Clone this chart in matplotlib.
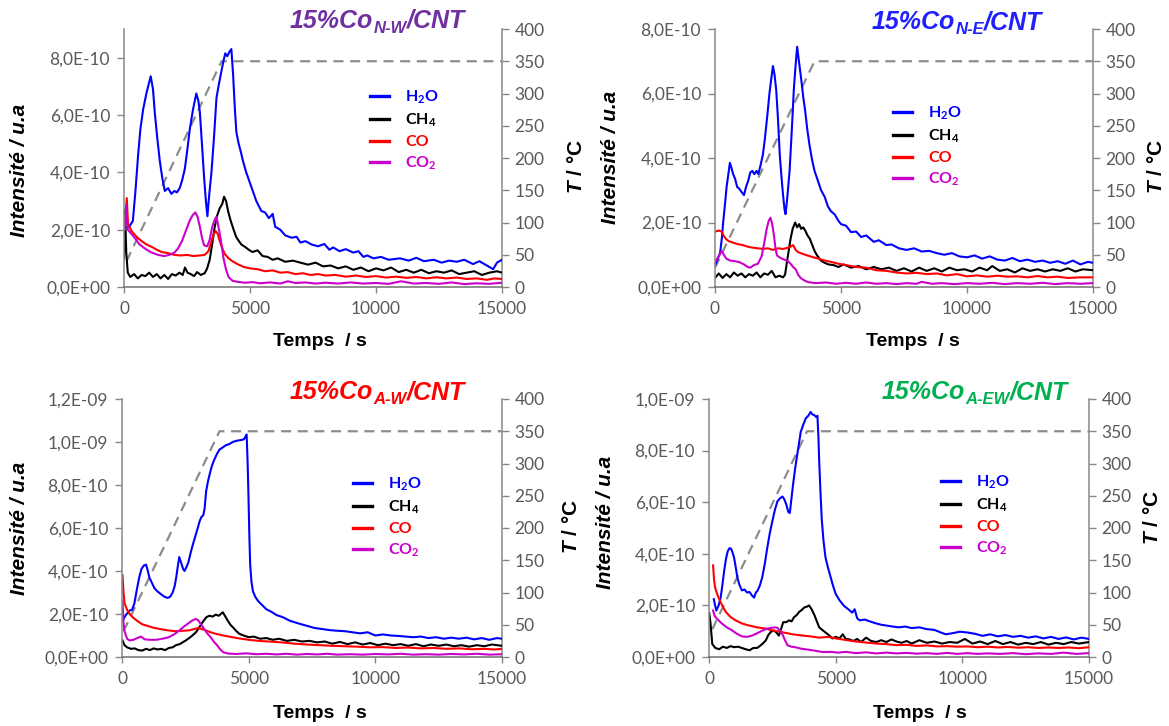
import matplotlib
matplotlib.use('Agg')
import matplotlib.pyplot as plt

plt.rcParams['font.family'] = ['Lato', 'DejaVu Sans']
plt.rcParams['mathtext.fontset'] = 'custom'
plt.rcParams['mathtext.rm'] = 'Lato:bold'
plt.rcParams['mathtext.it'] = 'Liberation Sans:italic:bold'
plt.rcParams['mathtext.bf'] = 'Liberation Sans:bold'
plt.rcParams['mathtext.default'] = 'rm'

# ---- data, intensities in units of 1e-10 ----
# panel 1 : 15%Co N-W /CNT
nw_h2o = [(30, 2.05), (200, 2.1), (350, 2.3), (450, 3.3), (560, 4.6), (650, 5.5), (760, 6.2), (900, 6.8),
          (1060, 7.35), (1150, 6.9), (1220, 6.1), (1320, 5.2), (1420, 4.4), (1520, 3.8), (1620, 3.35),
          (1750, 3.45), (1880, 3.25), (2000, 3.35), (2100, 3.3), (2210, 3.45), (2300, 3.7), (2410, 4.1),
          (2500, 4.7), (2610, 5.5), (2740, 6.2), (2870, 6.75), (2950, 6.5), (3010, 6.1), (3100, 4.9),
          (3180, 3.8), (3250, 3.0), (3310, 2.47), (3380, 3.2), (3470, 4.0), (3570, 5.2), (3670, 6.6),
          (3770, 7.1), (3860, 7.5), (3950, 7.9), (4020, 8.15), (4100, 8.05), (4180, 8.2), (4260, 8.3),
          (4330, 7.4), (4400, 6.2), (4460, 5.4), (4550, 5.0), (4640, 4.7), (4720, 4.4), (4850, 4.0),
          (5050, 3.5), (5250, 3.0), (5450, 2.65), (5600, 2.6), (5750, 2.4), (5900, 2.55), (6000, 2.1),
          (6200, 2.0), (6400, 1.8), (6650, 1.72), (6850, 1.75), (7000, 1.55), (7200, 1.6), (7450, 1.48),
          (7700, 1.42), (7950, 1.5), (8150, 1.3), (8300, 1.38), (8550, 1.25), (8800, 1.32), (9100, 1.2),
          (9300, 1.25), (9500, 1.05), (9650, 1.1), (9900, 1.0), (10200, 1.05), (10500, 0.95), (10950, 1.0),
          (11300, 0.92), (11600, 1.02), (11900, 0.9), (12300, 0.95), (12600, 0.85), (12900, 0.92),
          (13200, 0.88), (13500, 0.95), (13850, 0.8), (14100, 0.9), (14400, 0.75), (14650, 0.62),
          (14800, 0.85), (15000, 0.95)]
nw_ch4 = [(0, 1.0), (40, 2.7), (90, 1.2), (150, 0.5), (250, 0.35), (400, 0.45), (550, 0.3), (700, 0.42),
          (850, 0.38), (1000, 0.5), (1150, 0.35), (1300, 0.45), (1450, 0.3), (1600, 0.42), (1750, 0.28),
          (1900, 0.45), (2050, 0.4), (2200, 0.5), (2330, 0.42), (2420, 0.68), (2520, 0.5), (2650, 0.45),
          (2780, 0.38), (2900, 0.52), (3050, 0.42), (3200, 0.48), (3300, 0.65), (3400, 0.95), (3500, 1.5),
          (3600, 2.1), (3700, 2.5), (3800, 2.75), (3900, 2.9), (3970, 3.15), (4050, 3.0), (4130, 2.65),
          (4220, 2.35), (4330, 2.05), (4450, 1.75), (4560, 1.6), (4660, 1.48), (4800, 1.4), (4950, 1.3),
          (5100, 1.22), (5300, 1.28), (5500, 1.08), (5700, 1.05), (5900, 0.95), (6100, 1.0), (6400, 0.88),
          (6700, 0.92), (7000, 0.85), (7300, 0.78), (7600, 0.85), (7900, 0.72), (8200, 0.75), (8500, 0.65),
          (8800, 0.72), (9100, 0.6), (9400, 0.68), (9700, 0.55), (10000, 0.65), (10300, 0.58), (10600, 0.68),
          (10900, 0.52), (11200, 0.6), (11500, 0.5), (11800, 0.6), (12100, 0.48), (12400, 0.55), (12700, 0.5),
          (13000, 0.58), (13300, 0.45), (13600, 0.5), (13900, 0.55), (14200, 0.42), (14500, 0.5),
          (14800, 0.55), (15000, 0.5)]
nw_co = [(60, 2.3), (110, 3.1), (160, 2.2), (300, 1.95), (500, 1.75), (700, 1.6), (900, 1.48), (1100, 1.4),
         (1300, 1.3), (1500, 1.22), (1750, 1.18), (2000, 1.12), (2250, 1.1), (2500, 1.12), (2750, 1.08),
         (3000, 1.1), (3200, 1.12), (3350, 1.25), (3470, 1.6), (3560, 1.85), (3640, 1.95), (3720, 1.85),
         (3800, 1.6), (3900, 1.35), (4000, 1.15), (4150, 1.0), (4300, 0.9), (4500, 0.8), (4750, 0.7),
         (5000, 0.65), (5300, 0.62), (5600, 0.55), (5900, 0.58), (6200, 0.5), (6500, 0.52), (6800, 0.45),
         (7100, 0.48), (7400, 0.42), (7700, 0.45), (8000, 0.4), (8400, 0.42), (8800, 0.36), (9200, 0.4),
         (9600, 0.35), (10000, 0.38), (10400, 0.33), (10800, 0.36), (11200, 0.32), (11600, 0.35),
         (12000, 0.3), (12400, 0.34), (12800, 0.3), (13200, 0.33), (13600, 0.28), (14000, 0.3),
         (14400, 0.25), (14700, 0.3), (15000, 0.28)]
nw_co2 = [(30, 2.0), (90, 2.85), (150, 2.0), (250, 1.9), (420, 1.72), (600, 1.5), (820, 1.35), (1050, 1.22),
          (1350, 1.12), (1600, 1.08), (1800, 1.12), (2000, 1.2), (2150, 1.35), (2300, 1.6), (2450, 1.95),
          (2600, 2.3), (2720, 2.5), (2830, 2.6), (2920, 2.45), (3010, 2.1), (3100, 1.7), (3180, 1.45),
          (3300, 1.42), (3400, 1.65), (3500, 2.1), (3600, 2.35), (3670, 2.45), (3750, 2.1), (3850, 1.6),
          (3950, 1.0), (4050, 0.6), (4150, 0.35), (4300, 0.22), (4500, 0.18), (4800, 0.15), (5100, 0.17),
          (5400, 0.13), (5800, 0.16), (6200, 0.12), (6500, 0.2), (6800, 0.14), (7200, 0.16), (7600, 0.12),
          (8000, 0.15), (8500, 0.12), (9000, 0.16), (9500, 0.12), (10000, 0.14), (10500, 0.11),
          (11000, 0.2), (11500, 0.12), (12000, 0.14), (12500, 0.11), (13000, 0.16), (13500, 0.1),
          (14000, 0.13), (14500, 0.11), (15000, 0.15)]
nw_temp = [(100, 40), (3870, 350), (15000, 350)]

# panel 2 : 15%Co N-E /CNT
ne_h2o = [(20, 0.7), (120, 0.9), (200, 1.05), (270, 1.5), (330, 2.05), (400, 2.6), (460, 3.1), (530, 3.5),
          (590, 3.85), (650, 3.7), (720, 3.5), (800, 3.35), (880, 3.1), (960, 3.05), (1050, 2.95),
          (1150, 2.85), (1230, 3.1), (1320, 3.3), (1400, 3.55), (1480, 3.6), (1560, 3.5), (1650, 3.6),
          (1720, 3.5), (1800, 3.75), (1900, 4.1), (1980, 4.6), (2080, 5.35), (2160, 6.0), (2240, 6.5),
          (2300, 6.85), (2360, 6.6), (2430, 6.1), (2500, 5.2), (2570, 4.1), (2640, 3.4), (2700, 2.85),
          (2760, 2.4), (2800, 2.26), (2860, 2.7), (2960, 3.6), (3050, 4.9), (3130, 6.15), (3200, 6.9),
          (3260, 7.45), (3330, 7.0), (3420, 6.45), (3500, 5.9), (3580, 5.45), (3660, 4.9), (3750, 4.4),
          (3850, 3.95), (3950, 3.6), (4080, 3.3), (4210, 3.0), (4350, 2.8), (4480, 2.5), (4600, 2.35),
          (4750, 2.25), (4900, 2.05), (5000, 1.95), (5200, 1.9), (5400, 1.7), (5600, 1.72), (5800, 1.55),
          (6000, 1.6), (6300, 1.4), (6500, 1.45), (6800, 1.3), (7000, 1.32), (7300, 1.2), (7600, 1.15),
          (7900, 1.2), (8200, 1.1), (8500, 1.12), (8800, 1.05), (9100, 1.0), (9400, 1.05), (9700, 0.95),
          (10000, 0.92), (10300, 0.98), (10600, 0.88), (10900, 0.95), (11200, 0.85), (11500, 0.82),
          (11800, 0.9), (12100, 0.8), (12400, 0.85), (12700, 0.78), (13000, 0.82), (13300, 0.75),
          (13600, 0.8), (13900, 0.72), (14200, 0.82), (14500, 0.7), (14800, 0.78), (15000, 0.75)]
ne_ch4 = [(20, 0.3), (150, 0.42), (300, 0.28), (450, 0.4), (600, 0.3), (750, 0.45), (900, 0.35), (1050, 0.42),
          (1200, 0.3), (1350, 0.4), (1500, 0.35), (1650, 0.45), (1800, 0.3), (1950, 0.42), (2100, 0.38),
          (2250, 0.5), (2400, 0.3), (2550, 0.35), (2700, 0.3), (2780, 0.38), (2850, 0.75), (2920, 1.1),
          (3000, 1.5), (3080, 1.8), (3180, 2.0), (3260, 1.85), (3340, 1.95), (3420, 1.8), (3500, 1.85),
          (3580, 1.75), (3670, 1.6), (3760, 1.5), (3860, 1.3), (3950, 1.12), (4050, 0.98), (4200, 0.82),
          (4350, 0.75), (4500, 0.7), (4700, 0.68), (4900, 0.62), (5100, 0.7), (5400, 0.6), (5700, 0.65),
          (6000, 0.55), (6300, 0.62), (6600, 0.55), (6900, 0.6), (7200, 0.5), (7500, 0.58), (7800, 0.48),
          (8100, 0.6), (8400, 0.5), (8700, 0.58), (9000, 0.48), (9300, 0.6), (9600, 0.52), (9900, 0.55),
          (10200, 0.48), (10500, 0.6), (10800, 0.52), (11000, 0.65), (11300, 0.5), (11600, 0.55),
          (11900, 0.45), (12200, 0.58), (12500, 0.5), (12800, 0.55), (13100, 0.48), (13400, 0.55),
          (13700, 0.5), (14000, 0.58), (14300, 0.48), (14600, 0.55), (15000, 0.52)]
ne_co = [(20, 1.72), (150, 1.75), (260, 1.72), (350, 1.58), (450, 1.48), (550, 1.42), (700, 1.38), (900, 1.33),
         (1100, 1.3), (1300, 1.25), (1500, 1.22), (1700, 1.2), (1900, 1.18), (2100, 1.2), (2300, 1.15),
         (2500, 1.2), (2700, 1.18), (2900, 1.22), (3000, 1.25), (3100, 1.3), (3200, 1.15), (3300, 1.08),
         (3500, 1.02), (3700, 0.97), (3900, 0.92), (4100, 0.88), (4350, 0.82), (4600, 0.78), (4900, 0.72),
         (5200, 0.68), (5600, 0.62), (6000, 0.6), (6400, 0.52), (6800, 0.5), (7200, 0.45), (7600, 0.42),
         (8000, 0.44), (8400, 0.4), (8800, 0.42), (9200, 0.36), (9600, 0.4), (10000, 0.33), (10400, 0.36),
         (10800, 0.32), (11200, 0.35), (11600, 0.32), (12000, 0.33), (12400, 0.3), (12800, 0.34),
         (13200, 0.3), (13600, 0.32), (14000, 0.28), (14500, 0.3), (15000, 0.3)]
ne_co2 = [(20, 0.8), (150, 0.95), (260, 1.12), (350, 1.0), (450, 0.88), (600, 0.82), (800, 0.8), (1000, 0.76),
          (1150, 0.7), (1300, 0.62), (1400, 0.6), (1550, 0.68), (1700, 0.72), (1850, 0.95), (1950, 1.35),
          (2050, 1.8), (2130, 2.05), (2200, 2.15), (2270, 1.95), (2340, 1.6), (2400, 1.2), (2460, 0.98),
          (2600, 0.9), (2750, 0.85), (2900, 0.8), (3000, 0.72), (3100, 0.62), (3200, 0.55), (3300, 0.38),
          (3400, 0.28), (3550, 0.2), (3700, 0.15), (4000, 0.12), (4400, 0.14), (4800, 0.1), (5200, 0.13),
          (5600, 0.1), (6000, 0.14), (6400, 0.1), (6800, 0.12), (7200, 0.09), (7600, 0.12), (8000, 0.1),
          (8200, 0.16), (8600, 0.1), (9000, 0.12), (9500, 0.09), (10000, 0.12), (10500, 0.1), (11000, 0.13),
          (11500, 0.09), (12000, 0.12), (12500, 0.1), (13000, 0.13), (13500, 0.09), (14000, 0.12),
          (14500, 0.1), (15000, 0.12)]
ne_temp = [(0, 30), (3950, 350), (15000, 350)]

# panel 3 : 15%Co A-W /CNT
aw_h2o = [(30, 1.7), (150, 1.95), (290, 2.15), (400, 2.2), (490, 2.5), (580, 3.1), (680, 3.7), (770, 4.1),
          (860, 4.25), (950, 4.3), (1020, 4.0), (1080, 3.7), (1180, 3.45), (1280, 3.2), (1400, 3.05),
          (1540, 2.92), (1680, 2.8), (1800, 2.75), (1900, 2.8), (2000, 3.0), (2080, 3.3), (2140, 3.7),
          (2200, 4.2), (2260, 4.65), (2330, 4.4), (2410, 4.1), (2470, 4.0), (2550, 4.2), (2620, 4.4),
          (2700, 4.8), (2790, 5.2), (2890, 5.6), (2990, 6.0), (3060, 6.3), (3130, 6.5), (3210, 6.6),
          (3260, 6.9), (3320, 7.7), (3390, 8.15), (3450, 8.45), (3550, 8.9), (3650, 9.2), (3750, 9.45),
          (3850, 9.65), (3980, 9.75), (4100, 9.85), (4230, 9.9), (4370, 10.0), (4500, 10.05), (4630, 10.08),
          (4750, 10.1), (4830, 10.15), (4920, 10.35), (4960, 9.0), (4990, 7.6), (5030, 5.5), (5060, 4.3),
          (5110, 3.5), (5170, 3.05), (5260, 2.8), (5360, 2.62), (5500, 2.45), (5700, 2.22), (5900, 2.1),
          (6100, 1.95), (6350, 1.85), (6600, 1.7), (6800, 1.62), (7000, 1.55), (7300, 1.45), (7600, 1.35),
          (7900, 1.3), (8200, 1.25), (8500, 1.22), (8800, 1.2), (9100, 1.15), (9400, 1.1), (9700, 1.15),
          (10000, 1.0), (10300, 1.05), (10600, 1.0), (10900, 0.98), (11200, 0.95), (11500, 0.92),
          (11800, 0.95), (12100, 0.88), (12400, 0.92), (12700, 0.85), (13000, 0.9), (13300, 0.85),
          (13600, 0.9), (13900, 0.82), (14200, 0.88), (14500, 0.8), (14800, 0.88), (15000, 0.85)]
aw_ch4 = [(20, 0.77), (100, 0.55), (200, 0.45), (350, 0.38), (500, 0.4), (650, 0.32), (800, 0.3), (950, 0.38),
          (1100, 0.32), (1250, 0.4), (1400, 0.35), (1550, 0.38), (1700, 0.32), (1850, 0.42), (2000, 0.45),
          (2130, 0.55), (2280, 0.6), (2420, 0.7), (2530, 0.78), (2650, 0.88), (2780, 1.0), (2920, 1.15),
          (3050, 1.38), (3200, 1.65), (3330, 1.85), (3450, 1.92), (3580, 1.88), (3700, 1.97), (3820, 1.92),
          (3900, 2.0), (3980, 2.08), (4080, 1.88), (4180, 1.68), (4280, 1.5), (4380, 1.38), (4500, 1.22),
          (4630, 1.08), (4800, 1.0), (5000, 0.92), (5200, 0.95), (5450, 0.85), (5700, 0.88), (5950, 0.8),
          (6200, 0.85), (6500, 0.75), (6800, 0.8), (7100, 0.72), (7400, 0.75), (7700, 0.68), (8000, 0.72),
          (8300, 0.62), (8600, 0.7), (8900, 0.6), (9200, 0.68), (9500, 0.58), (9800, 0.65), (10100, 0.55),
          (10400, 0.62), (10700, 0.55), (11000, 0.6), (11300, 0.52), (11600, 0.6), (11900, 0.5),
          (12200, 0.58), (12500, 0.52), (12800, 0.58), (13100, 0.5), (13400, 0.55), (13700, 0.48),
          (14000, 0.55), (14300, 0.5), (14600, 0.58), (15000, 0.52)]
aw_co = [(20, 3.8), (60, 3.0), (100, 2.5), (200, 2.2), (300, 2.0), (450, 1.82), (600, 1.68), (800, 1.52),
         (1000, 1.45), (1250, 1.36), (1500, 1.3), (1800, 1.24), (2100, 1.2), (2400, 1.22), (2650, 1.24),
         (2850, 1.3), (3000, 1.35), (3150, 1.3), (3300, 1.24), (3500, 1.15), (3700, 1.08), (4000, 1.0),
         (4350, 0.92), (4700, 0.85), (5000, 0.8), (5400, 0.75), (5800, 0.72), (6300, 0.68), (6800, 0.62),
         (7300, 0.58), (7800, 0.55), (8300, 0.52), (8800, 0.5), (9300, 0.48), (9800, 0.45), (10300, 0.46),
         (10800, 0.42), (11300, 0.44), (11800, 0.4), (12300, 0.42), (12800, 0.38), (13300, 0.4),
         (13800, 0.36), (14300, 0.38), (14700, 0.35), (15000, 0.38)]
aw_co2 = [(20, 2.6), (60, 1.6), (100, 1.2), (200, 0.85), (300, 0.77), (450, 0.8), (600, 0.88), (750, 0.95),
          (900, 0.82), (1100, 0.8), (1350, 0.8), (1600, 0.85), (1850, 0.92), (2050, 1.05), (2250, 1.22),
          (2450, 1.42), (2600, 1.55), (2750, 1.68), (2900, 1.77), (3000, 1.72), (3100, 1.55), (3220, 1.35),
          (3350, 1.12), (3500, 0.92), (3620, 0.72), (3750, 0.55), (3880, 0.35), (4000, 0.22), (4200, 0.16),
          (4500, 0.14), (4900, 0.17), (5300, 0.13), (5700, 0.15), (6100, 0.12), (6500, 0.15), (6900, 0.11),
          (7300, 0.14), (7700, 0.12), (8100, 0.15), (8500, 0.11), (9000, 0.13), (9500, 0.11), (10000, 0.14),
          (10500, 0.12), (11000, 0.15), (11500, 0.11), (12000, 0.13), (12500, 0.11), (13000, 0.14),
          (13500, 0.12), (14000, 0.15), (14500, 0.11), (15000, 0.13)]
aw_temp = [(60, 40), (3850, 350), (15000, 350)]

# panel 4 : 15%Co A-EW /CNT
aew_h2o = [(190, 2.24), (240, 2.0), (290, 1.8), (380, 2.0), (460, 2.3), (530, 2.8), (600, 3.35), (670, 3.8),
           (740, 4.1), (810, 4.22), (870, 4.2), (930, 4.05), (990, 3.85), (1060, 3.45), (1120, 3.08),
           (1200, 2.8), (1300, 2.58), (1400, 2.62), (1500, 2.5), (1600, 2.52), (1700, 2.38), (1780, 2.3),
           (1850, 2.5), (1910, 2.56), (2000, 2.75), (2100, 3.08), (2200, 3.6), (2300, 4.23), (2400, 4.8),
           (2500, 5.26), (2600, 5.7), (2700, 6.03), (2800, 6.15), (2900, 6.22), (2980, 6.1), (3060, 5.88),
           (3130, 5.62), (3190, 5.58), (3250, 6.1), (3320, 6.7), (3400, 7.3), (3460, 7.7), (3540, 8.2),
           (3620, 8.72), (3720, 9.0), (3820, 9.25), (3920, 9.35), (4010, 9.5), (4080, 9.4), (4150, 9.38),
           (4230, 9.3), (4280, 9.35), (4320, 8.5), (4350, 7.6), (4400, 6.4), (4450, 5.35), (4520, 4.5),
           (4600, 3.85), (4700, 3.45), (4800, 3.1), (4900, 2.75), (5000, 2.45), (5150, 2.2), (5330, 1.98),
           (5500, 1.85), (5650, 1.72), (5750, 1.85), (5850, 1.5), (5950, 1.42), (6150, 1.45), (6350, 1.38),
           (6600, 1.3), (6800, 1.25), (7000, 1.22), (7250, 1.18), (7500, 1.15), (7750, 1.18), (8000, 1.12),
           (8300, 1.15), (8600, 1.08), (8900, 1.05), (9150, 0.95), (9350, 0.88), (9600, 0.92), (9900, 0.98),
           (10200, 0.95), (10500, 0.9), (10800, 0.82), (11100, 0.88), (11400, 0.8), (11700, 0.85),
           (12000, 0.78), (12300, 0.82), (12600, 0.75), (12900, 0.8), (13200, 0.72), (13500, 0.78),
           (13800, 0.7), (14100, 0.76), (14400, 0.68), (14700, 0.75), (15000, 0.7)]
aew_ch4 = [(10, 1.7), (60, 1.3), (130, 0.5), (250, 0.35), (400, 0.3), (550, 0.4), (700, 0.35), (850, 0.42),
           (1000, 0.38), (1150, 0.4), (1300, 0.35), (1450, 0.3), (1600, 0.26), (1750, 0.35), (1900, 0.35),
           (2000, 0.42), (2120, 0.52), (2240, 0.64), (2340, 0.85), (2440, 0.97), (2560, 1.03), (2660, 0.95),
           (2760, 0.83), (2850, 1.1), (2930, 1.35), (3050, 1.35), (3160, 1.42), (3260, 1.38), (3360, 1.55),
           (3460, 1.62), (3560, 1.75), (3660, 1.82), (3760, 1.92), (3860, 1.95), (3950, 2.0), (4050, 1.85),
           (4150, 1.65), (4250, 1.4), (4350, 1.15), (4470, 1.05), (4600, 0.95), (4730, 0.85), (4870, 0.72),
           (5000, 0.78), (5150, 0.72), (5280, 0.88), (5400, 0.7), (5550, 0.68), (5700, 0.62), (5850, 0.7),
           (6000, 0.58), (6200, 0.75), (6400, 0.62), (6600, 0.58), (6800, 0.65), (7000, 0.58), (7200, 0.68),
           (7400, 0.6), (7600, 0.55), (7800, 0.62), (8000, 0.52), (8300, 0.65), (8600, 0.55), (8900, 0.6),
           (9200, 0.52), (9500, 0.58), (9800, 0.55), (10100, 0.7), (10400, 0.52), (10700, 0.6), (11000, 0.5),
           (11300, 0.62), (11600, 0.5), (11900, 0.58), (12200, 0.48), (12500, 0.55), (12800, 0.5),
           (13100, 0.58), (13400, 0.48), (13700, 0.55), (14000, 0.5), (14300, 0.58), (14600, 0.52),
           (15000, 0.58)]
aew_co = [(160, 3.55), (200, 3.0), (240, 2.7), (300, 2.5), (400, 2.25), (520, 2.0), (660, 1.75), (850, 1.55),
          (1050, 1.42), (1300, 1.3), (1580, 1.22), (1900, 1.15), (2240, 1.1), (2550, 1.02), (2900, 0.96),
          (3300, 0.88), (3700, 0.83), (4000, 0.8), (4350, 0.75), (4700, 0.78), (5000, 0.72), (5400, 0.66),
          (5800, 0.6), (6200, 0.56), (6600, 0.52), (7000, 0.5), (7400, 0.46), (7800, 0.47), (8200, 0.43),
          (8600, 0.45), (9000, 0.41), (9400, 0.42), (9800, 0.4), (10200, 0.41), (10600, 0.38), (11000, 0.4),
          (11400, 0.37), (11800, 0.39), (12200, 0.36), (12600, 0.38), (13000, 0.35), (13400, 0.37),
          (13800, 0.35), (14200, 0.37), (14600, 0.34), (15000, 0.38)]
aew_co2 = [(160, 1.8), (220, 1.6), (300, 1.5), (420, 1.38), (530, 1.28), (700, 1.15), (900, 1.04), (1100, 0.9),
           (1300, 0.8), (1500, 0.78), (1700, 0.83), (1900, 0.92), (2100, 1.02), (2300, 1.1), (2450, 1.13),
           (2600, 1.15), (2700, 1.13), (2800, 1.02), (2900, 0.88), (3000, 0.65), (3100, 0.45), (3250, 0.4),
           (3400, 0.38), (3650, 0.32), (3950, 0.28), (4200, 0.24), (4500, 0.19), (4800, 0.2), (5100, 0.17),
           (5400, 0.2), (5800, 0.15), (6200, 0.18), (6600, 0.14), (7000, 0.17), (7400, 0.14), (7800, 0.16),
           (8200, 0.13), (8600, 0.15), (9000, 0.12), (9400, 0.16), (9800, 0.12), (10200, 0.15), (10600, 0.12),
           (11000, 0.14), (11500, 0.12), (12000, 0.15), (12500, 0.11), (13000, 0.14), (13500, 0.12),
           (14000, 0.17), (14500, 0.12), (15000, 0.15)]
aew_temp = [(130, 43), (3870, 350), (15000, 350)]

series_labels = ['H$_2$O', 'CH$_4$', 'CO', 'CO$_2$']
series_colors = ['#0000FF', '#000000', '#FF0000', '#CC00CC']

x_ticks = [0, 5000, 10000, 15000]
t_ticks = [0, 50, 100, 150, 200, 250, 300, 350, 400]

panels = [
    dict(main='15%Co', sub='N-W', color='#7030A0', series=[nw_h2o, nw_ch4, nw_co, nw_co2], temp=nw_temp,
         ymax=9e-10, yticks=[0, 2e-10, 4e-10, 6e-10, 8e-10],
         ylabels=['0,0E+00', '2,0E-10', '4,0E-10', '6,0E-10', '8,0E-10'],
         box=(124, 502, 29, 287), title_px=(290, 28), leg=(370, 89),
         ylab=(20, 170), tlab=(577, 167), xlab=(320, 341)),
    dict(main='15%Co', sub='N-E', color='#1F1FFF', series=[ne_h2o, ne_ch4, ne_co, ne_co2], temp=ne_temp,
         ymax=8e-10, yticks=[0, 2e-10, 4e-10, 6e-10, 8e-10],
         ylabels=['0,0E+00', '2,0E-10', '4,0E-10', '6,0E-10', '8,0E-10'],
         box=(715, 1093, 29, 287), title_px=(872, 29), leg=(893, 105),
         ylab=(610, 157), tlab=(1157, 167), xlab=(913, 341)),
    dict(main='15%Co', sub='A-W', color='#FF0000', series=[aw_h2o, aw_ch4, aw_co, aw_co2], temp=aw_temp,
         ymax=1.2e-9, yticks=[0, 2e-10, 4e-10, 6e-10, 8e-10, 1e-9, 1.2e-9],
         ylabels=['0,0E+00', '2,0E-10', '4,0E-10', '6,0E-10', '8,0E-10', '1,0E-09', '1,2E-09'],
         box=(122, 502, 399, 657), title_px=(290, 399), leg=(353, 476),
         ylab=(20, 528), tlab=(572, 527), xlab=(320, 713)),
    dict(main='15%Co', sub='A-EW', color='#00B050', series=[aew_h2o, aew_ch4, aew_co, aew_co2], temp=aew_temp,
         ymax=1.0e-9, yticks=[0, 2e-10, 4e-10, 6e-10, 8e-10, 1e-9],
         ylabels=['0,0E+00', '2,0E-10', '4,0E-10', '6,0E-10', '8,0E-10', '1,0E-09', ],
         box=(709, 1089, 399, 657), title_px=(882, 399), leg=(941, 474),
         ylab=(605, 522), tlab=(1152, 518), xlab=(920, 713)),
]

W, H = 1169, 726
fig = plt.figure(figsize=(W / 100, H / 100), dpi=100)
gray = '#888888'
tick_col = '#595959'

for p in panels:
    x0, x1, yt, yb = p['box']
    ax = fig.add_axes([x0 / W, 1 - yb / H, (x1 - x0) / W, (yb - yt) / H])
    ax2 = ax.twinx()
    ax.set_zorder(2)
    ax.patch.set_visible(False)

    for data, lab, col in zip(p['series'], series_labels, series_colors):
        t = [d[0] for d in data]
        v = [d[1] * 1e-10 for d in data]
        ax.plot(t, v, color=col, lw=1.5, label=lab)

    tt = [d[0] for d in p['temp']]
    tv = [d[1] for d in p['temp']]
    ax2.plot(tt, tv, color='#8C8C8C', lw=1.6, dashes=(4.5, 3))

    ax.set_xlim(0, 15000)
    ax.set_ylim(0, p['ymax'])
    ax2.set_ylim(0, 400)
    ax.set_xticks(x_ticks)
    ax.set_xticklabels([str(v) for v in x_ticks])
    ax.set_yticks(p['yticks'])
    ax.set_yticklabels(p['ylabels'])
    ax2.set_yticks(t_ticks)
    ax2.set_yticklabels([str(v) for v in t_ticks])

    for a in (ax, ax2):
        a.spines['top'].set_visible(False)
        for s in ('left', 'right', 'bottom'):
            a.spines[s].set_color(gray)
            a.spines[s].set_linewidth(1.1)
    ax.spines['bottom'].set_color('#707070')
    ax.spines['right'].set_visible(False)
    ax2.spines['left'].set_visible(False)
    ax2.spines['bottom'].set_visible(False)

    ax.tick_params(axis='y', direction='out', length=5, width=1, color=gray, labelsize=12.5,
                   labelcolor=tick_col, pad=5)
    ax.tick_params(axis='x', direction='out', length=4, width=1, color=gray, labelsize=12.5,
                   labelcolor=tick_col, pad=6)
    ax2.tick_params(axis='y', direction='out', length=5, width=1, color=gray, labelsize=12.5,
                    labelcolor=tick_col, pad=4)

    # axis labels
    ax.set_ylabel('Intensité / u.a', fontsize=15, fontweight='bold', fontstyle='italic',
                  family='Liberation Sans')
    ax.yaxis.label.set_va('center')
    ax.yaxis.set_label_coords((p['ylab'][0] - x0) / (x1 - x0), (yb - p['ylab'][1]) / (yb - yt))
    ax2.set_ylabel(r'$\mathit{T}$ / °C', fontsize=15, fontweight='bold', family='Liberation Sans')
    ax2.yaxis.label.set_va('center')
    ax2.yaxis.set_label_coords((p['tlab'][0] - x0) / (x1 - x0), (yb - p['tlab'][1]) / (yb - yt))
    ax.set_xlabel('Temps  / s', fontsize=14, fontweight='bold', family='Liberation Sans')
    ax.xaxis.label.set_va('center')
    ax.xaxis.set_label_coords((p['xlab'][0] - x0) / (x1 - x0), (yb - p['xlab'][1]) / (yb - yt))

    # legend
    lx, ly = p['leg']
    leg = ax.legend(loc='upper left', bbox_to_anchor=((lx - x0) / (x1 - x0), (yb - ly) / (yb - yt)),
                    frameon=False, handlelength=1.2, handletextpad=1.0, labelspacing=0.35,
                    borderpad=0, borderaxespad=0, labelcolor='linecolor',
                    prop=dict(family='Lato', weight='bold', size=11.5))
    for h in leg.get_lines():
        h.set_linewidth(2.4)

    # title with subscript
    tx, ty = p['title_px']
    tfont = dict(family='Liberation Sans', weight='bold', style='italic', color=p['color'])
    t1 = ax.annotate(p['main'], xy=(tx, H - ty), xycoords='figure pixels', ha='left', va='baseline',
                     fontsize=18, annotation_clip=False, **tfont)
    t2 = ax.annotate(p['sub'], xy=(1, 0), xycoords=t1, xytext=(0, -3), textcoords='offset pixels',
                     ha='left', va='bottom', fontsize=12, annotation_clip=False, **tfont)
    ax.annotate('/CNT', xy=(1, 0), xycoords=(t2, t1), ha='left', va='bottom', fontsize=18,
                annotation_clip=False, **tfont)

fig.savefig('out.png', dpi=100)
